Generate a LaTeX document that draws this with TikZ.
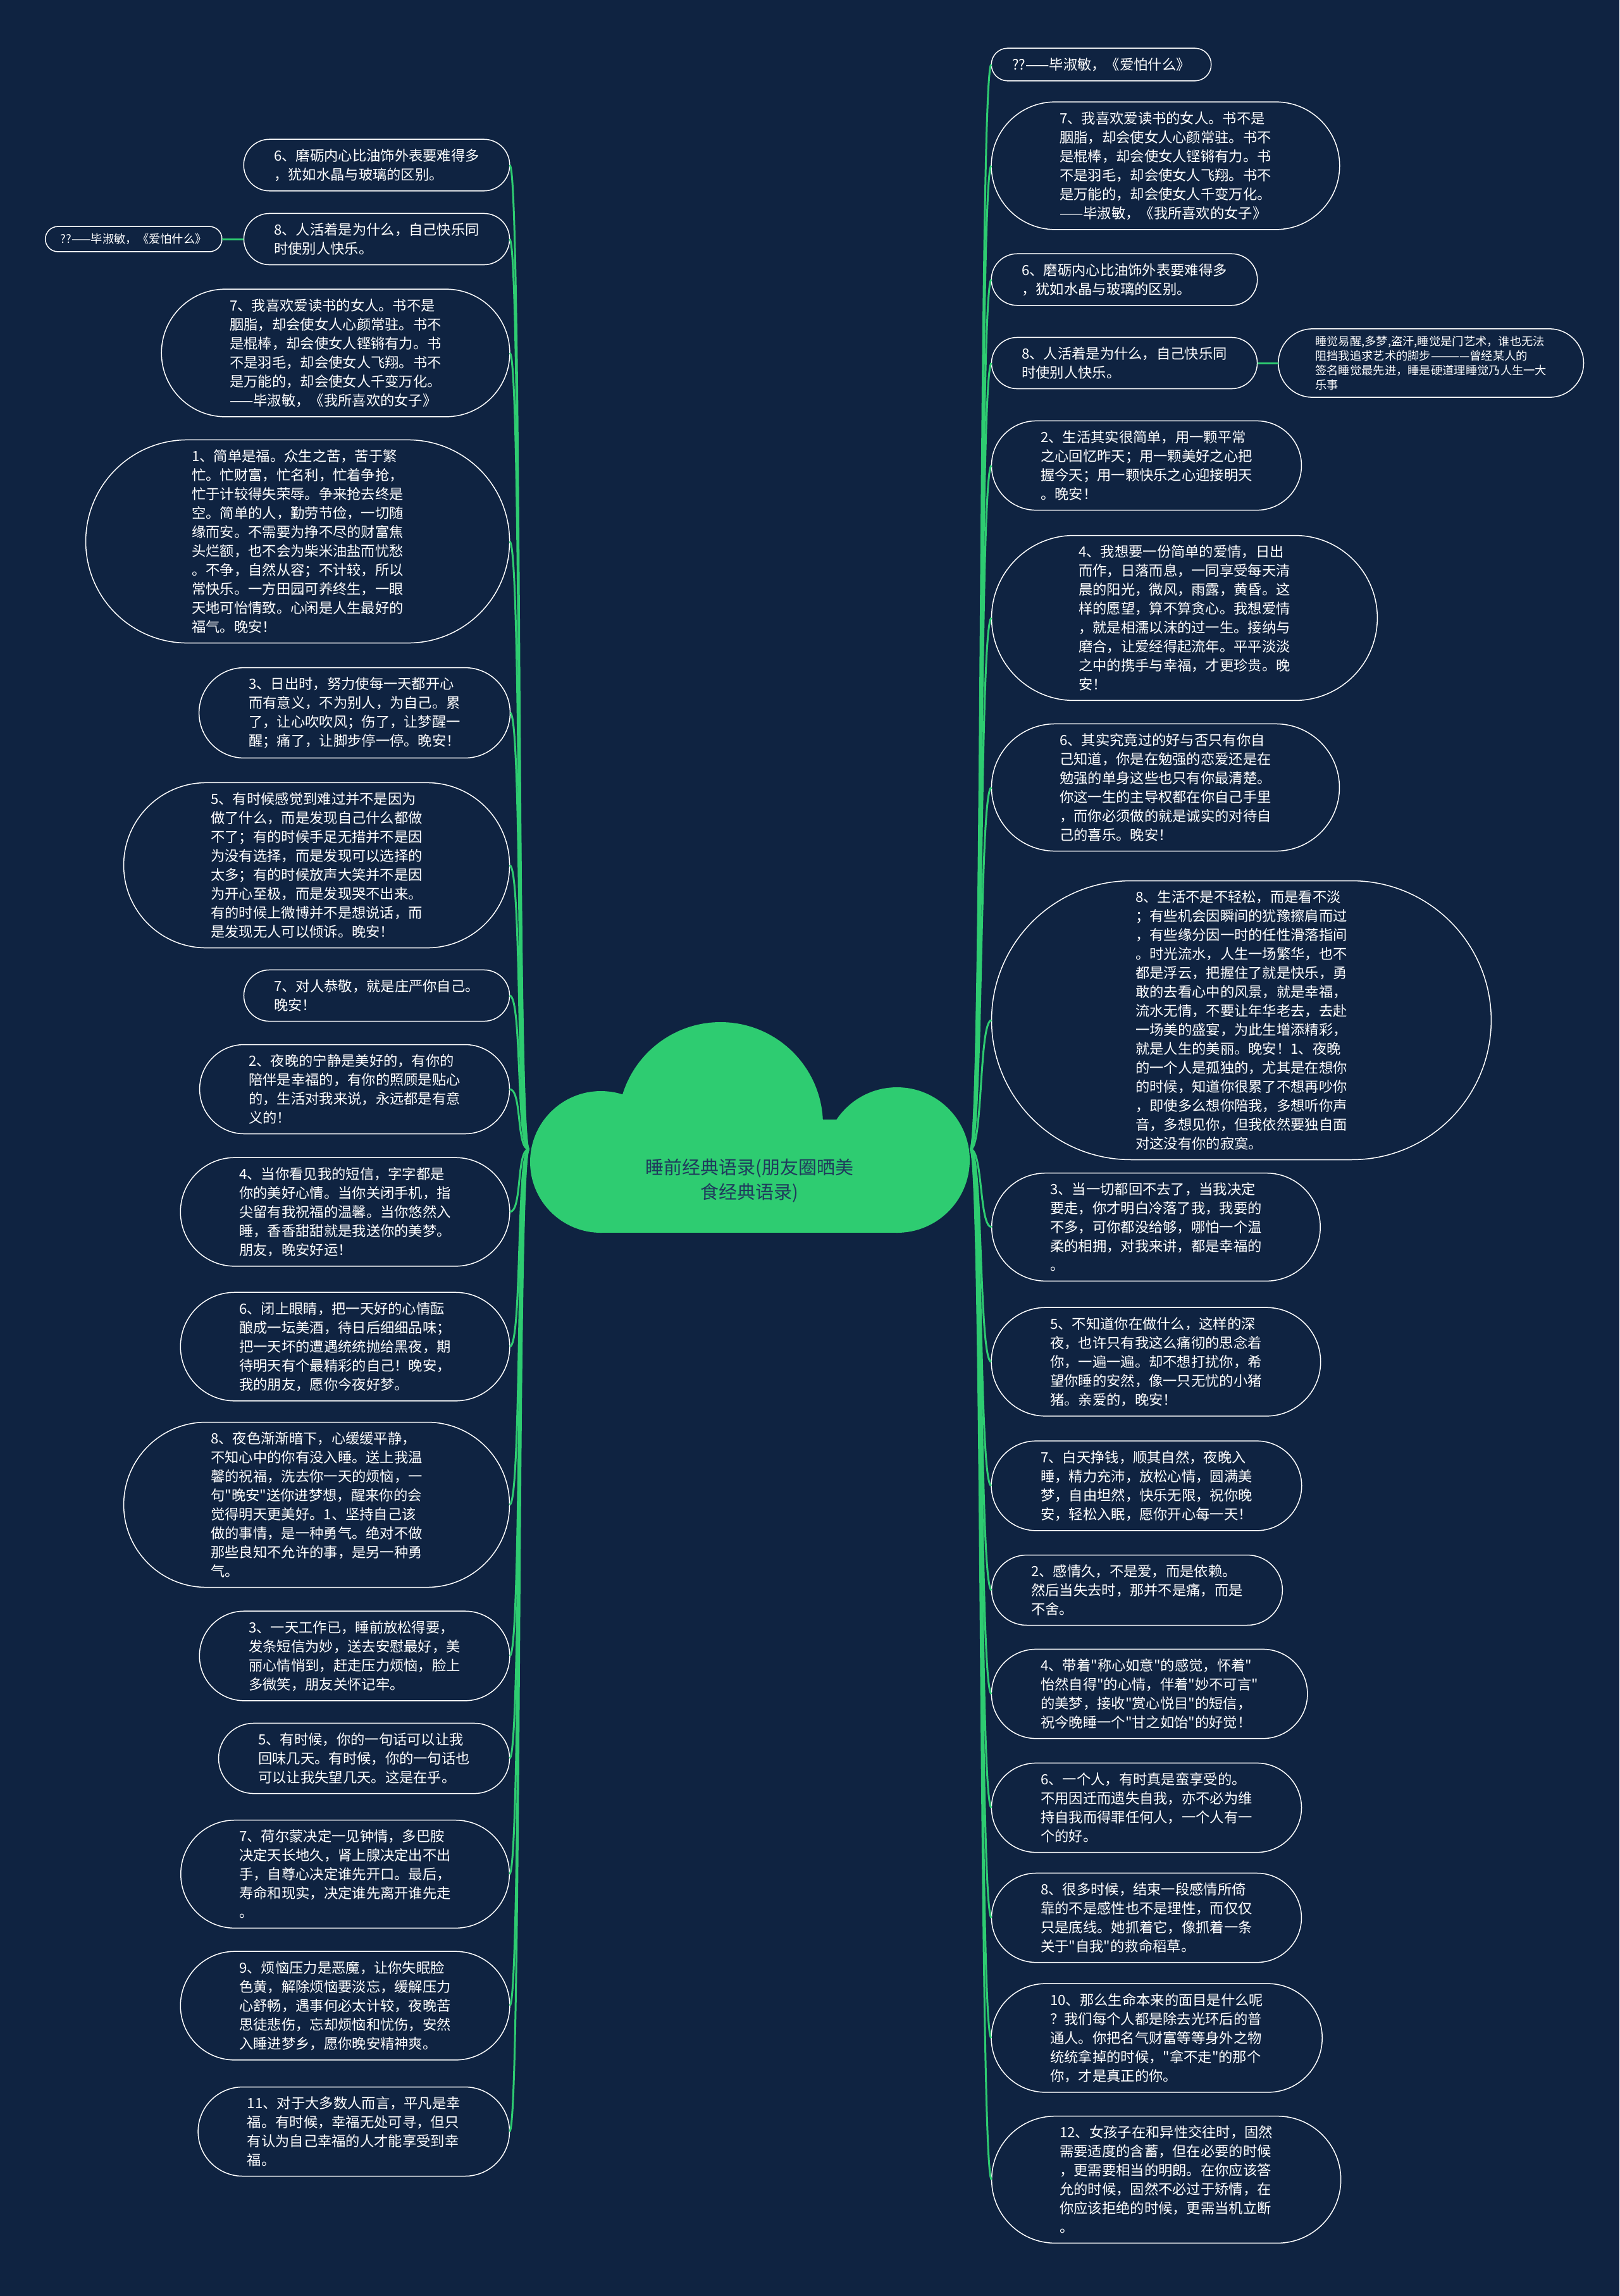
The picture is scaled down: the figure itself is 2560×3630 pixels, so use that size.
\documentclass[tikz,border=0pt]{standalone}
\usepackage{fontspec}
\setmainfont{Noto Sans CJK SC}[Ligatures=TeXOff]
\usetikzlibrary{positioning}
\usetikzlibrary{calc}

\definecolor{bgnavy}{HTML}{0F2341}
\definecolor{leafgreen}{HTML}{2ECC71}
\definecolor{rootink}{HTML}{1F3A5C}

% stadium outline round a text node, with its outer end points #1-w and #1-e
\newcommand\quoteoutline[1]{%
    \draw[boxline] let \p1=(#1.north west), \p2=(#1.south east), \n1={0.5*(\y1-\y2)} in
        (\x1,\y1) -- (\x2,\y1) arc[start angle=90, end angle=0, radius=\n1] coordinate (#1-e)
        arc[start angle=0, end angle=-90, radius=\n1] -- (\x1,\y2)
        arc[start angle=270, end angle=180, radius=\n1] coordinate (#1-w)
        arc[start angle=180, end angle=90, radius=\n1] -- cycle;
}

\begin{document}
\begin{tikzpicture}[x=1pt, y=-1pt,
    every node/.style={text=white},
    quotebox/.style={align=left, inner xsep=7pt, inner ysep=15pt, font=\fontsize{22.3}{30}\selectfont},
    leafnote/.style={quotebox, inner xsep=4pt, inner ysep=11pt, font=\fontsize{18.3}{23}\selectfont},
    roottext/.style={align=center, text=rootink, font=\fontsize{29}{39}\selectfont},
    boxline/.style={draw=white, line width=1.5pt},
    greenlink/.style={draw=leafgreen, line width=3pt}]

        % Background
        \fill[bgnavy] (0,0) rectangle (2560,3630);
        \useasboundingbox (0,0) rectangle (2560,3630);

        % Anchors on the cloud
        \coordinate (rootL) at (836,1817);
        \coordinate (rootR) at (1534,1817);

        % Left column
        \node[quotebox, anchor=east] (L1) at (765,261) {6、磨砺内心比油饰外表要难得多\\，犹如水晶与玻璃的区别。};
        \node[quotebox, anchor=east] (L2) at (765,378) {8、人活着是为什么，自己快乐同\\时使别人快乐。};
        \node[leafnote, left=95pt of L2] (L2a) {??——毕淑敏，《爱怕什么》};
        \node[quotebox, anchor=east] (L3) at (705,558) {7、我喜欢爱读书的女人。书不是\\胭脂，却会使女人心颜常驻。书不\\是棍棒，却会使女人铿锵有力。书\\不是羽毛，却会使女人飞翔。书不\\是万能的，却会使女人千变万化。\\——毕淑敏，《我所喜欢的女子》};
        \node[quotebox, anchor=east] (L4) at (645,856) {1、简单是福。众生之苦，苦于繁\\忙。忙财富，忙名利，忙着争抢，\\忙于计较得失荣辱。争来抢去终是\\空。简单的人，勤劳节俭，一切随\\缘而安。不需要为挣不尽的财富焦\\头烂额，也不会为柴米油盐而忧愁\\。不争，自然从容；不计较，所以\\常快乐。一方田园可养终生，一眼\\天地可怡情致。心闲是人生最好的\\福气。晚安！};
        \node[quotebox, anchor=east] (L5) at (735,1127) {3、日出时，努力使每一天都开心\\而有意义，不为别人，为自己。累\\了，让心吹吹风；伤了，让梦醒一\\醒；痛了，让脚步停一停。晚安！};
        \node[quotebox, anchor=east] (L6) at (675,1368) {5、有时候感觉到难过并不是因为\\做了什么，而是发现自己什么都做\\不了；有的时候手足无措并不是因\\为没有选择，而是发现可以选择的\\太多；有的时候放声大笑并不是因\\为开心至极，而是发现哭不出来。\\有的时候上微博并不是想说话，而\\是发现无人可以倾诉。晚安！};
        \node[quotebox, anchor=east] (L7) at (765,1574) {7、对人恭敬，就是庄严你自己。\\晚安！};
        \node[quotebox, anchor=east] (L8) at (735,1722) {2、夜晚的宁静是美好的，有你的\\陪伴是幸福的，有你的照顾是贴心\\的，生活对我来说，永远都是有意\\义的！};
        \node[quotebox, anchor=east] (L9) at (720,1916) {4、当你看见我的短信，字字都是\\你的美好心情。当你关闭手机，指\\尖留有我祝福的温馨。当你悠然入\\睡，香香甜甜就是我送你的美梦。\\朋友，晚安好运！};
        \node[quotebox, anchor=east] (L10) at (720,2129) {6、闭上眼睛，把一天好的心情酝\\酿成一坛美酒，待日后细细品味；\\把一天坏的遭遇统统抛给黑夜，期\\待明天有个最精彩的自己！晚安，\\我的朋友，愿你今夜好梦。};
        \node[quotebox, anchor=east] (L11) at (675,2379) {8、夜色渐渐暗下，心缓缓平静，\\不知心中的你有没入睡。送上我温\\馨的祝福，洗去你一天的烦恼，一\\句"晚安"送你进梦想，醒来你的会\\觉得明天更美好。1、坚持自己该\\做的事情，是一种勇气。绝对不做\\那些良知不允许的事，是另一种勇\\气。};
        \node[quotebox, anchor=east] (L12) at (735,2618) {3、一天工作已，睡前放松得要，\\发条短信为妙，送去安慰最好，美\\丽心情悄到，赶走压力烦恼，脸上\\多微笑，朋友关怀记牢。};
        \node[quotebox, anchor=east] (L13) at (750,2780) {5、有时候，你的一句话可以让我\\回味几天。有时候，你的一句话也\\可以让我失望几天。这是在乎。};
        \node[quotebox, anchor=east] (L14) at (720,2963) {7、荷尔蒙决定一见钟情，多巴胺\\决定天长地久，肾上腺决定出不出\\手，自尊心决定谁先开口。最后，\\寿命和现实，决定谁先离开谁先走\\。};
        \node[quotebox, anchor=east] (L15) at (720,3171) {9、烦恼压力是恶魔，让你失眠脸\\色黄，解除烦恼要淡忘，缓解压力\\心舒畅，遇事何必太计较，夜晚苦\\思徒悲伤，忘却烦恼和忧伤，安然\\入睡进梦乡，愿你晚安精神爽。};
        \node[quotebox, anchor=east] (L16) at (735,3370) {11、对于大多数人而言，平凡是幸\\福。有时候，幸福无处可寻，但只\\有认为自己幸福的人才能享受到幸\\福。};

        % Right column
        \node[quotebox, anchor=west] (R1) at (1593,102) {??——毕淑敏，《爱怕什么》};
        \node[quotebox, anchor=west] (R2) at (1668,262) {7、我喜欢爱读书的女人。书不是\\胭脂，却会使女人心颜常驻。书不\\是棍棒，却会使女人铿锵有力。书\\不是羽毛，却会使女人飞翔。书不\\是万能的，却会使女人千变万化。\\——毕淑敏，《我所喜欢的女子》};
        \node[quotebox, anchor=west] (R3) at (1608,442) {6、磨砺内心比油饰外表要难得多\\，犹如水晶与玻璃的区别。};
        \node[quotebox, anchor=west] (R4) at (1608,574) {8、人活着是为什么，自己快乐同\\时使别人快乐。};
        \node[leafnote, right=128pt of R4] (R4a) {睡觉易醒,多梦,盗汗,睡觉是门艺术，谁也无法\\阻挡我追求艺术的脚步————曾经某人的\\签名睡觉最先进，睡是硬道理睡觉乃人生一大\\乐事};
        \node[quotebox, anchor=west] (R5) at (1638,736) {2、生活其实很简单，用一颗平常\\之心回忆昨天；用一颗美好之心把\\握今天；用一颗快乐之心迎接明天\\。晚安！};
        \node[quotebox, anchor=west] (R6) at (1698,977) {4、我想要一份简单的爱情，日出\\而作，日落而息，一同享受每天清\\晨的阳光，微风，雨露，黄昏。这\\样的愿望，算不算贪心。我想爱情\\，就是相濡以沫的过一生。接纳与\\磨合，让爱经得起流年。平平淡淡\\之中的携手与幸福，才更珍贵。晚\\安！};
        \node[quotebox, anchor=west] (R7) at (1668,1245) {6、其实究竟过的好与否只有你自\\己知道，你是在勉强的恋爱还是在\\勉强的单身这些也只有你最清楚。\\你这一生的主导权都在你自己手里\\，而你必须做的就是诚实的对待自\\己的喜乐。晚安！};
        \node[quotebox, anchor=west] (R8) at (1788,1613) {8、生活不是不轻松，而是看不淡\\；有些机会因瞬间的犹豫擦肩而过\\，有些缘分因一时的任性滑落指间\\。时光流水，人生一场繁华，也不\\都是浮云，把握住了就是快乐，勇\\敢的去看心中的风景，就是幸福，\\流水无情，不要让年华老去，去赴\\一场美的盛宴，为此生增添精彩，\\就是人生的美丽。晚安！1、夜晚\\的一个人是孤独的，尤其是在想你\\的时候，知道你很累了不想再吵你\\，即使多么想你陪我，多想听你声\\音，多想见你，但我依然要独自面\\对这没有你的寂寞。};
        \node[quotebox, anchor=west] (R9) at (1653,1940) {3、当一切都回不去了，当我决定\\要走，你才明白冷落了我，我要的\\不多，可你都没给够，哪怕一个温\\柔的相拥，对我来讲，都是幸福的\\。};
        \node[quotebox, anchor=west] (R10) at (1653,2153) {5、不知道你在做什么，这样的深\\夜，也许只有我这么痛彻的思念着\\你，一遍一遍。却不想打扰你，希\\望你睡的安然，像一只无忧的小猪\\猪。亲爱的，晚安！};
        \node[quotebox, anchor=west] (R11) at (1638,2349) {7、白天挣钱，顺其自然，夜晚入\\睡，精力充沛，放松心情，圆满美\\梦，自由坦然，快乐无限，祝你晚\\安，轻松入眠，愿你开心每一天！};
        \node[quotebox, anchor=west] (R12) at (1623,2514) {2、感情久，不是爱，而是依赖。\\然后当失去时，那并不是痛，而是\\不舍。};
        \node[quotebox, anchor=west] (R13) at (1638,2678) {4、带着"称心如意"的感觉，怀着"\\怡然自得"的心情，伴着"妙不可言"\\的美梦，接收"赏心悦目"的短信，\\祝今晚睡一个"甘之如饴"的好觉！};
        \node[quotebox, anchor=west] (R14) at (1638,2858) {6、一个人，有时真是蛮享受的。\\不用因迁而遗失自我，亦不必为维\\持自我而得罪任何人，一个人有一\\个的好。};
        \node[quotebox, anchor=west] (R15) at (1638,3032) {8、很多时候，结束一段感情所倚\\靠的不是感性也不是理性，而仅仅\\只是底线。她抓着它，像抓着一条\\关于"自我"的救命稻草。};
        \node[quotebox, anchor=west] (R16) at (1653,3222) {10、那么生命本来的面目是什么呢\\？我们每个人都是除去光环后的普\\通人。你把名气财富等等身外之物\\统统拿掉的时候，"拿不走"的那个\\你，才是真正的你。};
        \node[quotebox, anchor=west] (R17) at (1668,3446) {12、女孩子在和异性交往时，固然\\需要适度的含蓄，但在必要的时候\\，更需要相当的明朗。在你应该答\\允的时候，固然不必过于矫情，在\\你应该拒绝的时候，更需当机立断\\。};

        % Outlines
        \foreach \qn in {L1,L2,L2a,L3,L4,L5,L6,L7,L8,L9,L10,L11,L12,L13,L14,L15,L16} {
            \quoteoutline{\qn}
        }
        \foreach \qn in {R1,R2,R3,R4,R4a,R5,R6,R7,R8,R9,R10,R11,R12,R13,R14,R15,R16,R17} {
            \quoteoutline{\qn}
        }

        % Branches
        \foreach \i in {1,...,16} {
            \draw[greenlink] (rootL) .. controls +(-20,0) and +(20,0) .. (L\i-e);
        }
        \foreach \i in {1,...,17} {
            \draw[greenlink] (rootR) .. controls +(20,0) and +(-20,0) .. (R\i-w);
        }
        \draw[greenlink] (L2-w) -- (L2a-e);
        \draw[greenlink] (R4-e) -- (R4a-w);

        % Centre cloud
        \fill[leafgreen] (1139,1778) circle (162pt);
        \fill[leafgreen] (950,1837) circle (112pt);
        \fill[leafgreen] (1418,1834) circle (115pt);
        \fill[leafgreen] (950,1770) rectangle (1418,1949);
        \node[roottext] (root) at (1185,1867) {睡前经典语录(朋友圈晒美\\食经典语录)};

    \end{tikzpicture}
\end{document}
